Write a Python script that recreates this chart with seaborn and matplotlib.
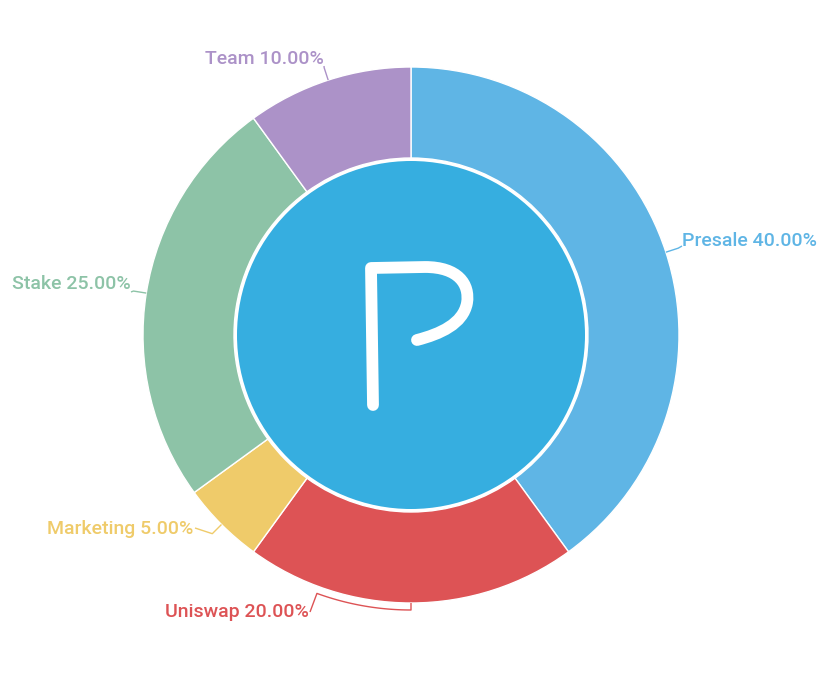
import numpy as np
import matplotlib
matplotlib.use("Agg")
import matplotlib.pyplot as plt
from matplotlib.patches import Circle, PathPatch
from matplotlib.path import Path
import seaborn as sns

# token allocation
labels = ["Presale", "Uniswap", "Marketing", "Stake", "Team"]
shares = [40, 20, 5, 25, 10]
colors = ["#5fb5e5", "#dd5355", "#efcb6a", "#8dc3a7", "#ac92c8"]

# where each label text sits (pixel coords, y down) and where its leader line ends
text_pos = [(682, 241), (309, 612), (193, 529), (131, 284), (324, 59)]
text_ha = ["left", "right", "right", "right", "right"]
line_end = [(682, 246), (310, 612), (195, 528), (131, 292), (324, 66)]

sns.set_theme(style="white")
plt.rcParams['font.family'] = ['Roboto', 'DejaVu Sans']
palette = sns.color_palette(colors)

cx, cy = 411, 335
r_out, r_in, r_hole = 268, 177, 174

fig = plt.figure(figsize=(8.35, 6.77), dpi=100)
ax = fig.add_axes([0, 0, 1, 1])

wedges, _ = ax.pie(shares, colors=palette, radius=r_out, center=(cx, cy),
                   startangle=270, counterclock=True,
                   wedgeprops=dict(width=r_out - r_in, edgecolor="white", linewidth=1))

ax.set_xlim(0, 835)
ax.set_ylim(677, 0)
ax.set_aspect("equal")
ax.axis("off")

# centre disc
ax.add_patch(Circle((cx, cy), r_hole, facecolor="#36aee0", edgecolor="none", zorder=3))

# the P logo
verts = [(373, 405), (371, 268), (425, 267),
         (458, 267), (470, 284), (467, 303),
         (463, 324), (440, 334), (417, 340)]
codes = [Path.MOVETO, Path.LINETO, Path.LINETO,
         Path.CURVE4, Path.CURVE4, Path.CURVE4,
         Path.CURVE4, Path.CURVE4, Path.CURVE4]
ax.add_patch(PathPatch(Path(verts, codes), facecolor="none", edgecolor="white",
                       lw=8.5, capstyle="round", joinstyle="round", zorder=4))

# labels and leader lines
for w, lab, val, col, tp, ha, le in zip(wedges, labels, shares, palette,
                                         text_pos, text_ha, line_end):
    mid_deg = ((w.theta1 + w.theta2) / 2) % 360
    mid = np.deg2rad(mid_deg)
    ax_ = cx + r_out * np.cos(mid)
    ay_ = cy + r_out * np.sin(mid)
    if lab == "Uniswap":
        r2 = r_out + 7
        t = np.deg2rad(np.linspace(mid_deg, 110, 30))
        xs = [ax_] + list(cx + r2 * np.cos(t)) + [le[0]]
        ys = [ay_] + list(cy + r2 * np.sin(t)) + [le[1]]
    else:
        r2 = r_out + 13
        xs = [ax_, cx + r2 * np.cos(mid), le[0]]
        ys = [ay_, cy + r2 * np.sin(mid), le[1]]
    ax.plot(xs, ys, color=col, lw=1, solid_capstyle="butt")
    ax.text(tp[0], tp[1], f"{lab} {val:.2f}%", color=col, ha=ha, va="center",
            fontsize=14, fontweight="medium")

fig.savefig("out.png", dpi=100)
